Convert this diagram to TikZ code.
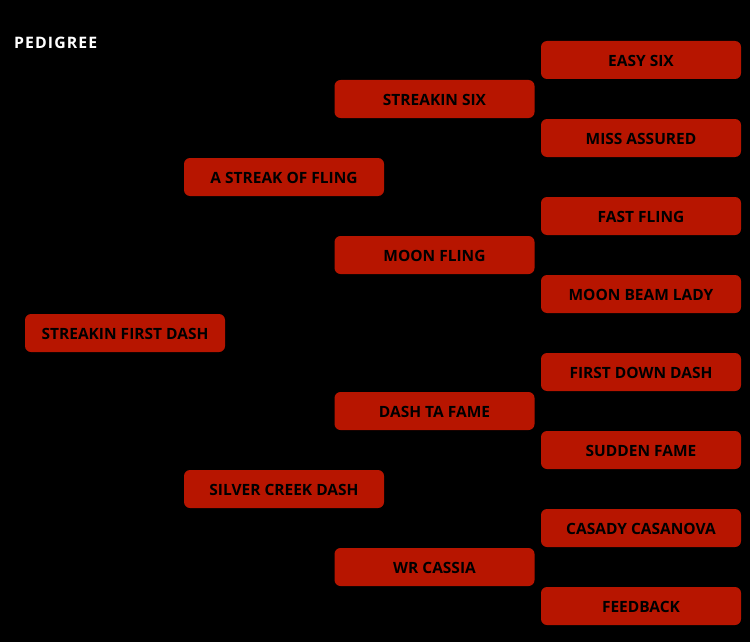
\documentclass[tikz,border=0pt]{standalone}
\usepackage{fontspec}
\setmainfont{Open Sans}
\newfontfamily\titlefont[LetterSpace=7]{Open Sans}
\begin{document}
\begin{tikzpicture}[x=1pt,y=-1pt,
  horse/.style={fill=boxred, rounded corners=6pt, minimum width=200pt, minimum height=38pt, inner sep=0pt, text height=12.6pt, text depth=0pt, font=\fontsize{15.5}{17}\selectfont\bfseries, text=black},
  title/.style={font=\titlefont\fontsize{15.8}{17}\selectfont\bfseries, text=white, anchor=west, inner sep=0pt}]
\definecolor{boxred}{HTML}{B71500}
\fill[black] (0,0) rectangle (750,642);
\useasboundingbox (0,0) rectangle (750,642);
\node[title] (t) at (14,42.5) {PEDIGREE};
\node[horse] (a0) at (125,333) {STREAKIN FIRST DASH};
\node[horse] (b1) at (284,177) {A STREAK OF FLING};
\node[horse] (b2) at (284,489) {SILVER CREEK DASH};
\node[horse] (c1) at (434.5,99) {STREAKIN SIX};
\node[horse] (c2) at (434.5,255) {MOON FLING};
\node[horse] (c3) at (434.5,411) {DASH TA FAME};
\node[horse] (c4) at (434.5,567) {WR CASSIA};
\node[horse] (d1) at (641,60) {EASY SIX};
\node[horse] (d2) at (641,138) {MISS ASSURED};
\node[horse] (d3) at (641,216) {FAST FLING};
\node[horse] (d4) at (641,294) {MOON BEAM LADY};
\node[horse] (d5) at (641,372) {FIRST DOWN DASH};
\node[horse] (d6) at (641,450) {SUDDEN FAME};
\node[horse] (d7) at (641,528) {CASADY CASANOVA};
\node[horse] (d8) at (641,606) {FEEDBACK};
\end{tikzpicture}
\end{document}
